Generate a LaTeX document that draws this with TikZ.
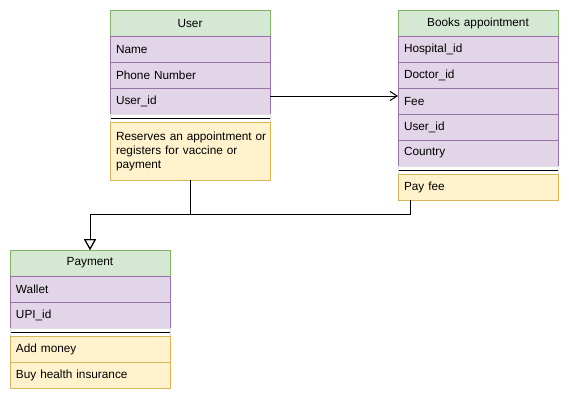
\documentclass[tikz,border=0pt]{standalone}
\usepackage{fontspec}
\setmainfont{Liberation Sans}
\usetikzlibrary{arrows.meta}

\definecolor{headfill}{HTML}{D5E8D4}
\definecolor{headline}{HTML}{82B366}
\definecolor{fieldfill}{HTML}{E1D5E7}
\definecolor{fieldline}{HTML}{9673A6}
\definecolor{opfill}{HTML}{FFF2CC}
\definecolor{opline}{HTML}{D6B656}

\tikzset{
    row/.style={anchor=north west, minimum height=26pt, text width=148pt,
        inner xsep=6pt, inner ysep=0pt, outer sep=0pt, line width=1pt,
        font=\fontsize{11.8}{14}\selectfont},
    classhead/.style={row, align=center, fill=headfill, draw=headline},
    fieldrow/.style={row, align=left, fill=fieldfill, draw=fieldline},
    oprow/.style={row, align=left, fill=opfill, draw=opline},
    sepline/.style={row, minimum height=8pt, draw=gray!25, fill=white,
        path picture={\draw[black, line width=1pt]
            (path picture bounding box.west) -- (path picture bounding box.east);}},
    assocarrow/.style={line width=1pt, -{Straight Barb[length=7pt, width=9pt]}},
    genarrow/.style={line width=1pt, -{Triangle[open, length=11pt, width=12pt]}}
}

\begin{document}
\begin{tikzpicture}[x=1pt, y=-1pt]
    \useasboundingbox[fill=white] (0,0) rectangle (569,402);

    % User class
    \node[classhead] (user) at (110,10) {User};
    \node[fieldrow] (user-name) at (user.south west) {Name};
    \node[fieldrow] (user-phone) at (user-name.south west) {Phone Number};
    \node[fieldrow] (user-id) at (user-phone.south west) {User\_id};
    \node[sepline] (user-sep) at (user-id.south west) {};
    \node[oprow, minimum height=58pt] (user-note) at (user-sep.south west)
        {\mbox{Reserves an appointment or}\\registers for vaccine or\\payment};

    % Books appointment class
    \node[classhead] (books) at (398,10) {Books appointment};
    \node[fieldrow] (books-hospital) at (books.south west) {Hospital\_id};
    \node[fieldrow] (books-doctor) at (books-hospital.south west) {Doctor\_id};
    \node[fieldrow] (books-fee) at (books-doctor.south west) {Fee};
    \node[fieldrow] (books-user) at (books-fee.south west) {User\_id};
    \node[fieldrow] (books-country) at (books-user.south west) {Country};
    \node[sepline] (books-sep) at (books-country.south west) {};
    \node[oprow] (books-pay) at (books-sep.south west) {Pay fee};

    % Payment class
    \node[classhead] (payment) at (10,250) {Payment};
    \node[fieldrow] (payment-wallet) at (payment.south west) {Wallet};
    \node[fieldrow] (payment-upi) at (payment-wallet.south west) {UPI\_id};
    \node[sepline] (payment-sep) at (payment-upi.south west) {};
    \node[oprow] (payment-add) at (payment-sep.south west) {Add money};
    \node[oprow] (payment-buy) at (payment-add.south west) {Buy health insurance};

    % Connectors
    \coordinate (bend) at (90,214);
    \coordinate (books-foot) at ([xshift=12pt]books-pay.south west);
    \draw[assocarrow] ([yshift=5pt]user-id.east) -- ([yshift=5pt]books-fee.west);
    \draw[genarrow] (user-note.south) |- (bend) -- (payment.north);
    \draw[genarrow] (books-foot) |- (bend) -- (payment.north);
\end{tikzpicture}
\end{document}
